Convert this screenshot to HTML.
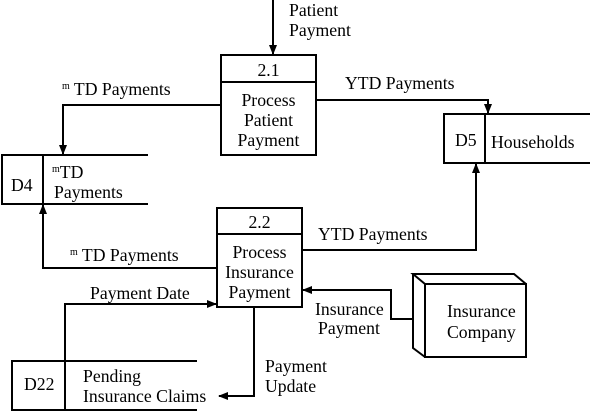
<!DOCTYPE html>
<html><head><style>body{margin:0;background:#fff}svg{display:block}text{font-family:"Liberation Serif",serif;font-size:17.7px;fill:#000}</style></head><body>
<svg width="590" height="411" viewBox="0 0 590 411" xmlns="http://www.w3.org/2000/svg">
<defs><marker id="a" markerWidth="10" markerHeight="10" refX="9" refY="5" orient="auto" markerUnits="userSpaceOnUse"><path d="M0,1 L10,5 L0,9 z" fill="#000"/></marker></defs>
<g fill="none" stroke="#000" stroke-width="2">
<rect x="221" y="55" width="95" height="100"/><line x1="221" y1="82" x2="316" y2="82"/>
<line x1="273" y1="0" x2="273" y2="54" marker-end="url(#a)"/>
<polyline points="221,105 63,105 63,154" marker-end="url(#a)"/>
<polyline points="316,100 488,100 488,113" marker-end="url(#a)"/>
<polyline points="148,155 2,155 2,204 148,204"/><line x1="43" y1="155" x2="43" y2="204"/>
<polyline points="590,114 444,114 444,163 590,163"/><line x1="485" y1="114" x2="485" y2="163"/>
<rect x="217" y="208" width="85" height="99"/><line x1="217" y1="234" x2="302" y2="234"/>
<polyline points="302,250 476,250 476,164" marker-end="url(#a)"/>
<polyline points="217,268 43,268 43,205" marker-end="url(#a)"/>
<polyline points="65,361 65,304 216,304" marker-end="url(#a)"/>
<polyline points="254,307 254,396 219,396" marker-end="url(#a)"/>
<polyline points="413,319 391,319 391,290 303,290" marker-end="url(#a)"/>
<polyline points="197,361 12,361 12,410 197,410"/><line x1="65" y1="361" x2="65" y2="410"/>
<rect x="425" y="284" width="101" height="73"/>
<polyline points="425,284 413,274 514,274 526,284"/>
<polyline points="413,274 413,348 425,357"/>
</g>
<text x="289" y="16">Patient</text><text x="289" y="36">Payment</text>
<text x="268.5" y="76" text-anchor="middle">2.1</text>
<text x="268.5" y="106" text-anchor="middle">Process</text>
<text x="268.5" y="126" text-anchor="middle">Patient</text>
<text x="268.5" y="146" text-anchor="middle">Payment</text>
<text x="62" y="95"><tspan font-size="10" dy="-6">m</tspan><tspan dy="6"> TD Payments</tspan></text>
<text x="345" y="89">YTD Payments</text>
<text x="11" y="191">D4</text>
<text x="52" y="178"><tspan font-size="10" dy="-6">m</tspan><tspan dy="6">TD</tspan></text>
<text x="54" y="198">Payments</text>
<text x="455" y="146">D5</text>
<text x="491" y="148">Households</text>
<text x="259.5" y="228" text-anchor="middle">2.2</text>
<text x="259.5" y="258" text-anchor="middle">Process</text>
<text x="259.5" y="278" text-anchor="middle">Insurance</text>
<text x="259.5" y="298" text-anchor="middle">Payment</text>
<text x="318" y="240">YTD Payments</text>
<text x="70" y="261"><tspan font-size="10" dy="-6">m</tspan><tspan dy="6"> TD Payments</tspan></text>
<text x="90" y="299">Payment Date</text>
<text x="315" y="315">Insurance</text><text x="318" y="334">Payment</text>
<text x="447" y="317">Insurance</text><text x="447" y="338">Company</text>
<text x="265" y="372">Payment</text><text x="265" y="392">Update</text>
<text x="24" y="390">D22</text>
<text x="83" y="382">Pending</text><text x="83" y="402">Insurance Claims</text>
</svg>
</body></html>
